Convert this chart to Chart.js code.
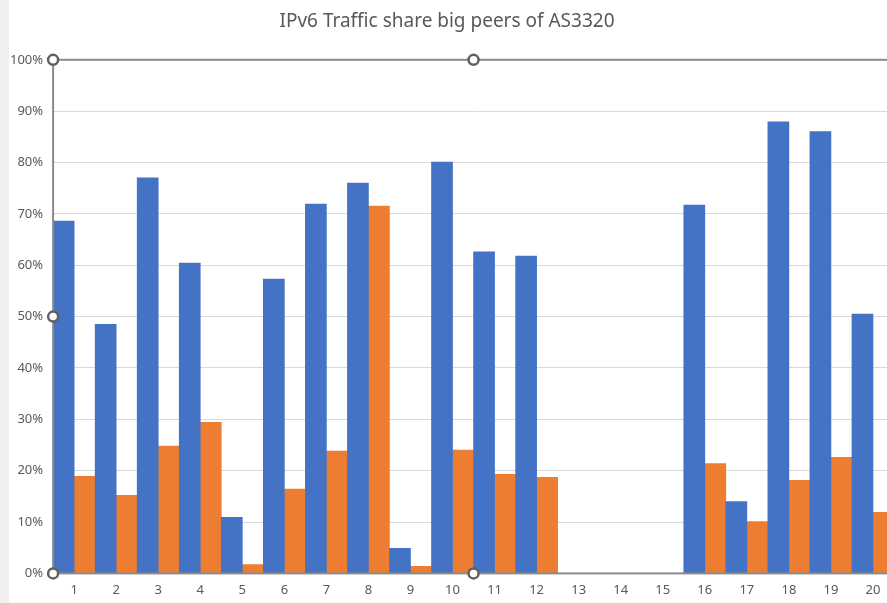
<!DOCTYPE html>
<html>
<head>
<meta charset="utf-8">
<script src="https://cdn.jsdelivr.net/npm/chart.js@4/dist/chart.umd.min.js"></script>
<style>
  html, body { margin: 0; padding: 0; overflow: hidden; background: #fff; }
  #strip { position: absolute; left: 0; top: 0; width: 9px; height: 603px; background: #efefef; }
  #wrap { position: absolute; left: 0; top: 0; width: 900px; height: 603px; }
  canvas { display: block; }
</style>
</head>
<body>
<div id="strip"></div>
<div id="wrap"><canvas id="myChart" width="900" height="603"></canvas></div>
<script>
const categories = ['1','2','3','4','5','6','7','8','9','10','11','12','13','14','15','16','17','18','19','20'];
const blueValues = [68.6, 48.5, 77.0, 60.4, 10.9, 57.3, 71.9, 76.0, 4.9, 80.1, 62.6, 61.8, null, null, null, 71.7, 14.0, 87.9, 86.0, 50.5];
const orangeValues = [18.9, 15.2, 24.8, 29.4, 1.7, 16.4, 23.8, 71.5, 1.4, 24.0, 19.3, 18.7, null, null, null, 21.4, 10.1, 18.1, 22.6, 11.9];

// excel-style selection frame + handles around the plot area
const selectionFrame = {
  id: 'selectionFrame',
  afterDraw(chart) {
    const { ctx, chartArea: a } = chart;
    ctx.save();
    ctx.strokeStyle = '#8a8a8a';
    ctx.lineWidth = 2;
    ctx.strokeRect(a.left, a.top, a.right - a.left, a.bottom - a.top);
    const mx = (a.left + a.right) / 2, my = (a.top + a.bottom) / 2;
    const pts = [[a.left, a.top], [mx, a.top], [a.right, a.top], [a.left, my], [a.right, my], [a.left, a.bottom], [mx, a.bottom], [a.right, a.bottom]];
    pts.forEach(p => {
      ctx.beginPath();
      ctx.arc(p[0], p[1], 5, 0, Math.PI * 2);
      ctx.fillStyle = '#fff';
      ctx.fill();
      ctx.lineWidth = 2.5;
      ctx.strokeStyle = '#606060';
      ctx.stroke();
    });
    ctx.restore();
  }
};

let ctx = document.getElementById('myChart');
let myBarChart = new Chart(ctx, {
  type: 'bar',
  data: {
    labels: categories,
    datasets: [
      { label: 'Series 1', data: blueValues, backgroundColor: '#4472C4', barPercentage: 1, categoryPercentage: 1 },
      { label: 'Series 2', data: orangeValues, backgroundColor: '#ED7D31', barPercentage: 1, categoryPercentage: 1 }
    ]
  },
  options: {
    responsive: false,
    animation: false,
    layout: { padding: { left: 0, right: 6, top: 0, bottom: -4 } },
    plugins: {
      legend: { display: false },
      tooltip: { enabled: false },
      title: {
        display: true,
        text: 'IPv6 Traffic share big peers of AS3320',
        color: '#595959',
        font: { family: 'Noto Sans', size: 19, weight: 'normal' },
        padding: { top: 10, bottom: 27 }
      }
    },
    scales: {
      x: {
        grid: { display: false, drawTicks: false },
        border: { display: false },
        ticks: { color: '#595959', font: { family: 'Noto Sans', size: 13 }, padding: 9, maxRotation: 0 }
      },
      y: {
        min: 0,
        max: 100,
        grid: { color: '#d9d9d9', drawTicks: false },
        border: { display: false },
        ticks: {
          stepSize: 10,
          color: '#595959',
          font: { family: 'Noto Sans', size: 13 },
          padding: 10,
          callback: v => v + '%'
        }
      }
    }
  },
  plugins: [selectionFrame]
});
</script>
</body>
</html>
